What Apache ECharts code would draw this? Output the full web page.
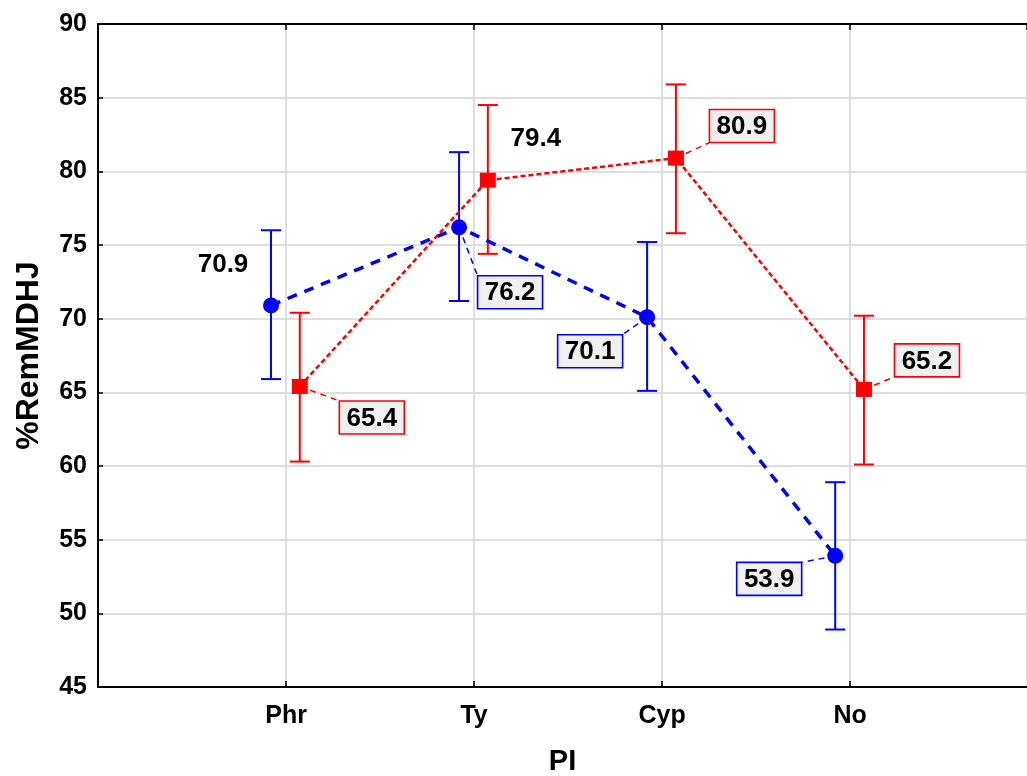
<!DOCTYPE html>
<html>
<head>
<meta charset="utf-8">
<script src="https://cdn.jsdelivr.net/npm/echarts@6/dist/echarts.min.js"></script>
<style>
html,body{margin:0;padding:0;background:#fff;}
#chart{width:1027px;height:776px;}
</style>
</head>
<body>
<div id="chart"></div>
<script>
// ---- data ----
const categories = ['Phr', 'Ty', 'Cyp', 'No'];
const blueMean = [70.9, 76.2, 70.1, 53.9];
const blueLow  = [65.9, 71.2, 65.1, 48.9];
const blueHigh = [76.0, 81.3, 75.2, 58.9];
const redMean  = [65.4, 79.4, 80.9, 65.2];
const redLow   = [60.3, 74.4, 75.8, 60.1];
const redHigh  = [70.4, 84.5, 85.9, 70.2];
const yTicks = [45, 90, 5]; // min, max, step
const xName = 'PI';
const yName = '%RemMDHJ';

// ---- styling / layout (not data) ----
const BLUE = '#0000ff', RED = '#ff0000';
const blueShift = -0.08, redShift = 0.073;
const xMax = 4.94; // visible part of the category range (plot runs off the right edge)
// label placement relative to point: [dx, dy, boxed]
const blueLabelPos = [[-48, -42, false], [51, 65, true], [-57, 34, true], [-66, 23, true]];
const redLabelPos  = [[72, 31, true], [48, -42, false], [66, -32, true], [63, -29, true]];
const FONT = '"Liberation Sans", Arial, Helvetica, sans-serif';

function pts(mean, shift) { return mean.map((v, i) => [i + 1 + shift, v]); }
function errData(mean, lo, hi, shift) { return mean.map((v, i) => [i + 1 + shift, lo[i], hi[i]]); }
function labData(mean, shift, pos) {
  return mean.map((v, i) => [i + 1 + shift, v, pos[i][0], pos[i][1], pos[i][2] ? 1 : 0, v.toFixed(1)]);
}

function errRender(color) {
  return function (params, api) {
    const x = api.value(0);
    const a = api.coord([x, api.value(1)]);
    const b = api.coord([x, api.value(2)]);
    const cw = 10;
    const st = { stroke: color, lineWidth: 2 };
    return { type: 'group', children: [
      { type: 'line', shape: { x1: a[0], y1: a[1], x2: b[0], y2: b[1] }, style: st },
      { type: 'line', shape: { x1: a[0] - cw, y1: a[1], x2: a[0] + cw, y2: a[1] }, style: st },
      { type: 'line', shape: { x1: b[0] - cw, y1: b[1], x2: b[0] + cw, y2: b[1] }, style: st }
    ]};
  };
}

const BW = 65, BH = 33;
function leaderRender(color) {
  return function (params, api) {
    if (!api.value(4)) return { type: 'group', children: [] };
    const p = api.coord([api.value(0), api.value(1)]);
    const dx = api.value(2), dy = api.value(3);
    const cx = p[0] + dx, cy = p[1] + dy;
    const ex = cx - Math.sign(dx) * BW / 2, ey = cy - Math.sign(dy) * BH / 2;
    return { type: 'line', shape: { x1: p[0], y1: p[1], x2: ex, y2: ey },
      style: { stroke: color, lineWidth: 1.5, lineDash: [6, 5] } };
  };
}
function boxRender(color) {
  return function (params, api) {
    const p = api.coord([api.value(0), api.value(1)]);
    const cx = p[0] + api.value(2), cy = p[1] + api.value(3);
    const boxed = api.value(4);
    const txt = api.value(5);
    const children = [];
    if (boxed) {
      children.push({ type: 'rect', shape: { x: cx - BW / 2, y: cy - BH / 2, width: BW, height: BH },
        style: { fill: '#f0f0f0', stroke: color, lineWidth: 1.6 } });
    }
    children.push({ type: 'text', style: { text: txt, x: cx, y: cy + 1, align: 'center', verticalAlign: 'middle',
      fill: '#000', font: 'bold 26px ' + FONT } });
    return { type: 'group', children };
  };
}

const chart = echarts.init(document.getElementById('chart'), null, { renderer: 'canvas' });
const axisCommon = {
  type: 'value', min: 0, max: xMax, interval: 1,
  axisLine: { show: true, onZero: false, lineStyle: { color: '#000', width: 2 } },
  axisTick: { show: true, inside: true, length: 6, lineStyle: { color: '#000', width: 1.5 } }
};
chart.setOption({
  animation: false,
  backgroundColor: '#fff',
  grid: { left: 98, top: 24, right: 0, height: 663, containLabel: false, outerBoundsMode: 'none' },
  xAxis: [
    Object.assign({}, axisCommon, {
      position: 'bottom',
      name: xName, nameLocation: 'middle', nameGap: 60,
      nameTextStyle: { fontFamily: FONT, fontWeight: 'bold', fontSize: 29, color: '#000' },
      axisLabel: { show: true, margin: 17, fontFamily: FONT, fontWeight: 'bold', fontSize: 25, color: '#000',
        showMaxLabel: false, formatter: v => categories[v - 1] || '' },
      splitLine: { show: true, lineStyle: { color: '#d4d4d4', width: 1.5 } }
    }),
    Object.assign({}, axisCommon, {
      position: 'top', axisLabel: { show: false }, splitLine: { show: false }
    })
  ],
  yAxis: {
    type: 'value', min: yTicks[0], max: yTicks[1], interval: yTicks[2],
    name: yName, nameLocation: 'middle', nameGap: 53, nameRotate: 90,
    nameTextStyle: { fontFamily: FONT, fontWeight: 'bold', fontSize: 32, color: '#000' },
    axisLine: { show: true, lineStyle: { color: '#000', width: 2 } },
    axisTick: { show: true, inside: true, length: 5, lineStyle: { color: '#000', width: 1.5 } },
    axisLabel: { margin: 11, fontFamily: FONT, fontWeight: 'bold', fontSize: 25, color: '#000' },
    splitLine: { show: true, lineStyle: { color: '#d4d4d4', width: 1.5 } }
  },
  series: [
    { type: 'custom', z: 1, renderItem: leaderRender(BLUE), data: labData(blueMean, blueShift, blueLabelPos), silent: true },
    { type: 'custom', z: 1, renderItem: leaderRender(RED), data: labData(redMean, redShift, redLabelPos), silent: true },
    { type: 'custom', z: 2, renderItem: errRender(BLUE), data: errData(blueMean, blueLow, blueHigh, blueShift), silent: true },
    { type: 'custom', z: 2, renderItem: errRender(RED), data: errData(redMean, redLow, redHigh, redShift), silent: true },
    { type: 'line', z: 3, data: pts(blueMean, blueShift), symbol: 'circle', symbolSize: 16,
      itemStyle: { color: BLUE }, lineStyle: { color: BLUE, width: 3.5, type: [10, 8] } },
    { type: 'line', z: 4, data: pts(redMean, redShift), symbol: 'rect', symbolSize: [16, 15],
      itemStyle: { color: RED }, lineStyle: { color: RED, width: 2.5, type: [5, 3] } },
    { type: 'custom', z: 10, renderItem: boxRender(BLUE), data: labData(blueMean, blueShift, blueLabelPos), silent: true },
    { type: 'custom', z: 10, renderItem: boxRender(RED), data: labData(redMean, redShift, redLabelPos), silent: true }
  ]
});
</script>
</body>
</html>
